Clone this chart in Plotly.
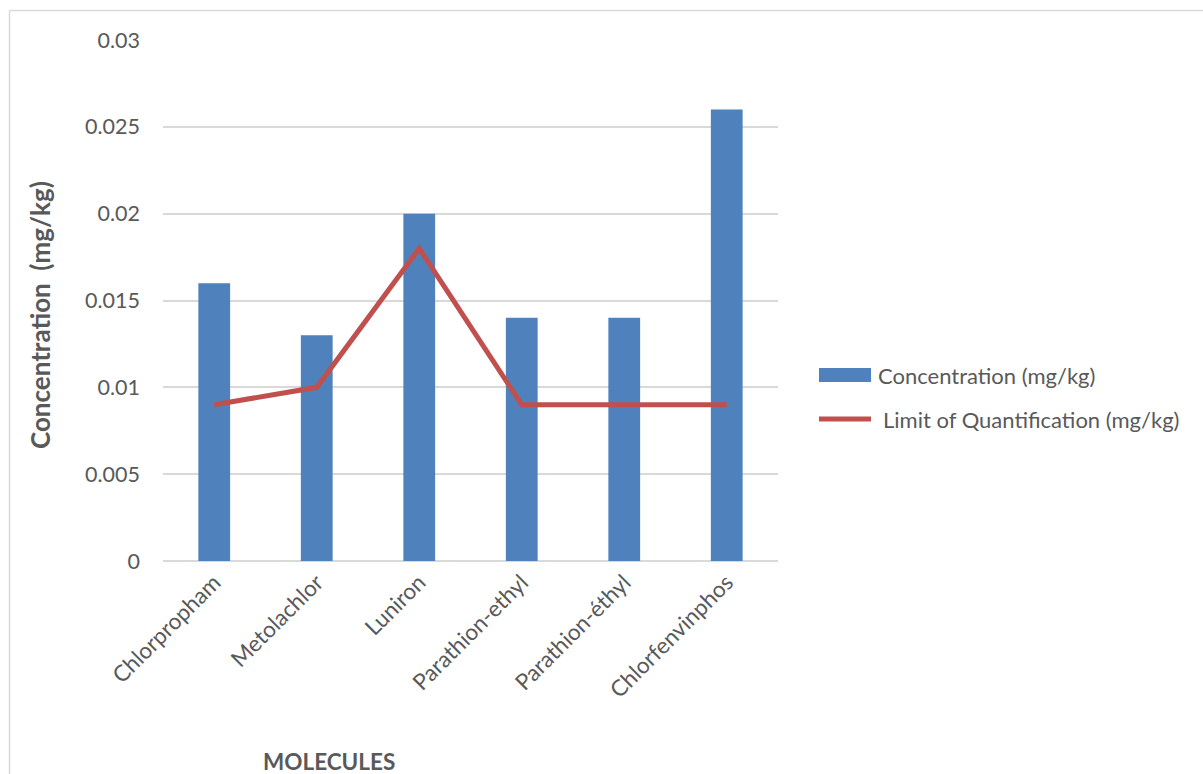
import plotly.graph_objects as go

# Data
molecules = ["Chlorpropham", "Metolachlor", "Luniron", "Parathion-ethyl",
             "Parathion-éthyl", "Chlorfenvinphos"]
concentration = [0.016, 0.013, 0.020, 0.014, 0.014, 0.026]
limit_quant = [0.009, 0.010, 0.018, 0.009, 0.009, 0.009]
y_ticks = [0, 0.005, 0.01, 0.015, 0.02, 0.025, 0.03]
y_tick_labels = ["0", "0.005", "0.01", "0.015", "0.02", "0.025", "0.03"]

BLUE = "#4F81BD"
RED = "#C0504D"
GREY_TEXT = "#595959"
GRID = "#D9D9D9"
FONT = "Lato, Carlito, Calibri, sans-serif"

W, H = 1203, 774
L, R, T, B = 163, 778, 40, 561  # plot area in pixels


def px_x(p):
    return (p - L) / (R - L)


def px_y(p):
    return (B - p) / (B - T)


fig = go.Figure()
fig.add_trace(go.Bar(x=molecules, y=concentration, name="Concentration (mg/kg)",
                     marker=dict(color=BLUE, line=dict(width=0)), showlegend=False))
fig.add_trace(go.Scatter(x=molecules, y=limit_quant, mode="lines",
                         name="Limit of Quantification (mg/kg)",
                         line=dict(color=RED, width=5), showlegend=False))

shapes = [
    # chart frame (left and top edges)
    dict(type="line", xref="paper", yref="paper", x0=px_x(9.5), x1=px_x(1210),
         y0=px_y(10.5), y1=px_y(10.5), line=dict(color=GRID, width=1.5)),
    dict(type="line", xref="paper", yref="paper", x0=px_x(9.5), x1=px_x(9.5),
         y0=px_y(10.5), y1=px_y(780), line=dict(color=GRID, width=1.5)),
    # legend swatches
    dict(type="rect", xref="paper", yref="paper", x0=px_x(819), x1=px_x(871),
         y0=px_y(382), y1=px_y(368), fillcolor=BLUE, line=dict(width=0)),
    dict(type="line", xref="paper", yref="paper", x0=px_x(819), x1=px_x(871),
         y0=px_y(419), y1=px_y(419), line=dict(color=RED, width=5)),
]

annotations = [
    dict(text="Concentration (mg/kg)", xref="paper", yref="paper",
         x=px_x(876), y=px_y(375), xanchor="left", yanchor="middle",
         showarrow=False, font=dict(family=FONT, size=22, color=GREY_TEXT)),
    dict(text="Limit of Quantification (mg/kg)", xref="paper", yref="paper",
         x=px_x(881), y=px_y(419), xanchor="left", yanchor="middle",
         showarrow=False, font=dict(family=FONT, size=22, color=GREY_TEXT)),
    dict(text="<b>Concentration  (mg/kg)</b>", xref="paper", yref="paper",
         x=px_x(40), y=px_y(315), xanchor="center", yanchor="middle", textangle=-90,
         showarrow=False, font=dict(family=FONT, size=26, color=GREY_TEXT)),
    dict(text="<b>MOLECULES</b>", xref="paper", yref="paper",
         x=px_x(329), y=px_y(761), xanchor="center", yanchor="middle",
         showarrow=False, font=dict(family=FONT, size=22.5, color=GREY_TEXT)),
]

fig.update_layout(
    width=W, height=H,
    margin=dict(l=L, r=W - R, t=T, b=H - B, pad=0),
    paper_bgcolor="white", plot_bgcolor="white",
    bargap=0.69,
    font=dict(family=FONT, size=22, color=GREY_TEXT),
    shapes=shapes, annotations=annotations,
    xaxis=dict(tickangle=-45, showgrid=False, showline=False, ticks="",
               ticklabelstandoff=3,
               tickfont=dict(family=FONT, size=22.5, color=GREY_TEXT)),
    yaxis=dict(range=[0, 0.03], tickvals=y_ticks, ticktext=y_tick_labels,
               showgrid=True, gridcolor=GRID, gridwidth=1.5,
               zeroline=True, zerolinecolor=GRID, zerolinewidth=1.5,
               showline=False, ticks="", ticklabelstandoff=22,
               tickfont=dict(family=FONT, size=21.5, color=GREY_TEXT)),
)

fig.write_html("out.html")
